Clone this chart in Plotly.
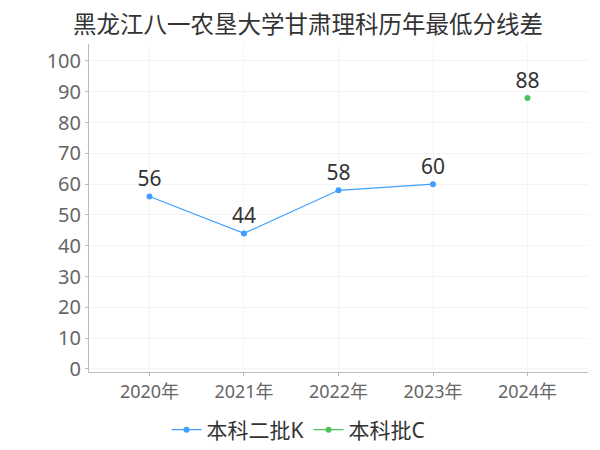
import plotly.graph_objects as go

years = ["2020年", "2021年", "2022年", "2023年", "2024年"]
series1_name = "本科二批K"
series1_x = ["2020年", "2021年", "2022年", "2023年"]
series1_y = [56, 44, 58, 60]
series2_name = "本科批C"
series2_x = ["2024年"]
series2_y = [88]
yticks = list(range(0, 101, 10))

font = "Noto Sans, Noto Sans CJK SC"

fig = go.Figure()
fig.add_trace(go.Scatter(
    x=series1_x, y=series1_y, name=series1_name, mode="lines+markers+text",
    line=dict(color="#3f9fff", width=1.2), marker=dict(size=6, color="#3f9fff"),
    text=[str(v) for v in series1_y], textposition="top center",
    textfont=dict(size=21, color="#333333", family=font),
))
fig.add_trace(go.Scatter(
    x=series2_x, y=series2_y, name=series2_name, mode="lines+markers+text",
    line=dict(color="#4cc35a", width=1.2), marker=dict(size=6, color="#4cc35a"),
    text=[str(v) for v in series2_y], textposition="top center",
    textfont=dict(size=21, color="#333333", family=font),
))

fig.update_layout(
    width=600, height=450,
    paper_bgcolor="white", plot_bgcolor="white",
    margin=dict(l=81, r=20, t=36, b=86, autoexpand=False),
    font=dict(family=font, color="#666666"),
    title=dict(text="黑龙江八一农垦大学甘肃理科历年最低分线差", x=0.5, xanchor="center",
               y=0.962, yanchor="middle", font=dict(size=23.5, color="#333333", family=font)),
    showlegend=True,
    legend=dict(orientation="h", x=0.42, xanchor="center", y=-0.177, yanchor="middle",
                font=dict(size=21, color="#333333", family=font), itemwidth=30,
                tracegroupgap=0),
    xaxis=dict(type="category", categoryorder="array", categoryarray=years,
               range=[-0.64, 4.64], showgrid=True, gridcolor="#f4f4f4",
               showline=True, linecolor="#bbbbbb", ticks="outside", ticklen=3,
               tickcolor="#bbbbbb", tickfont=dict(size=18, color="#666666"),
               zeroline=False, automargin=False),
    yaxis=dict(range=[-1, 105.5], tickvals=yticks, showgrid=True, gridcolor="#f4f4f4",
               showline=True, linecolor="#bbbbbb", ticks="outside", ticklen=3,
               tickcolor="#bbbbbb", tickfont=dict(size=20, color="#666666"),
               zeroline=False, automargin=False),
)

fig.write_html("out.html")
